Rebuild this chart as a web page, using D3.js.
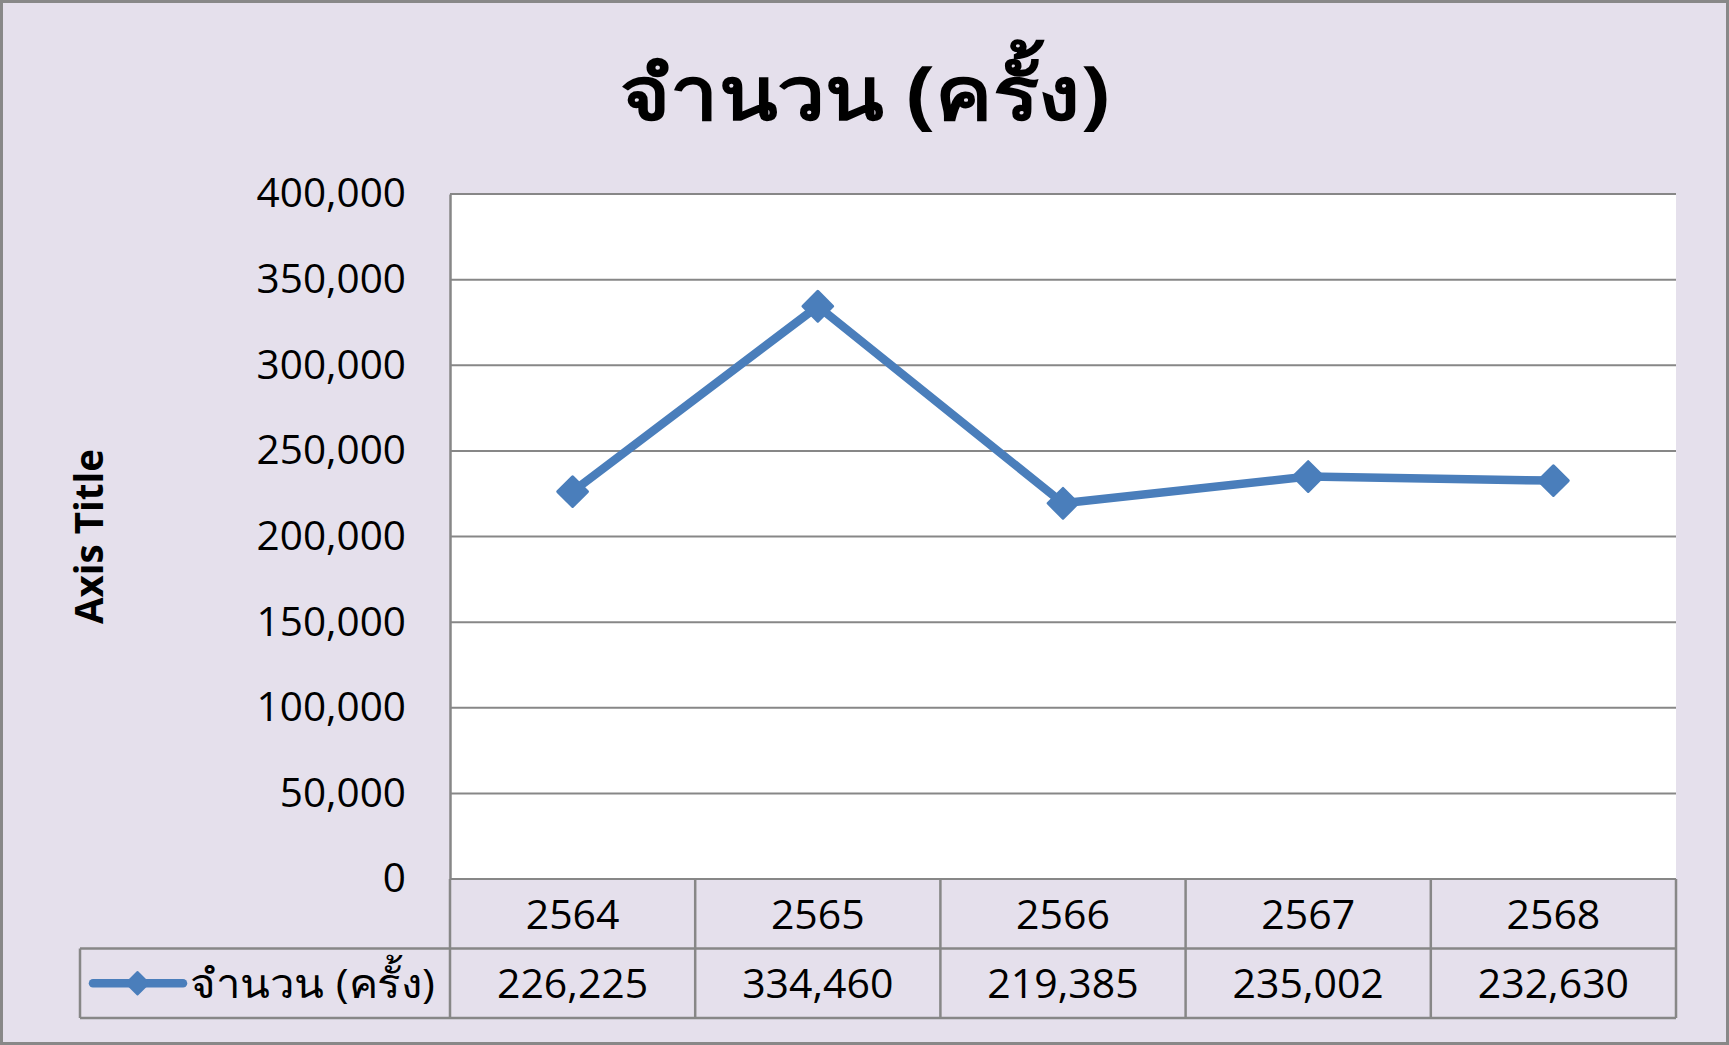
<!DOCTYPE html>
<html><head><meta charset="utf-8">
<script src="https://cdn.jsdelivr.net/npm/d3@7"></script>
<style>
html,body{margin:0;padding:0;background:#fff;}
svg{display:block;}
text{font-family:"Open Sans","Noto Sans",sans-serif;fill:#000;}
</style></head>
<body>
<svg id="chart" width="1729" height="1045"></svg>
<script>
const title = "จำนวน (ครั้ง)";
const seriesName = "จำนวน (ครั้ง)";
const categories = ["2564","2565","2566","2567","2568"];
const values = [226225, 334460, 219385, 235002, 232630];
const yTicks = [0,50000,100000,150000,200000,250000,300000,350000,400000];
const yAxisTitle = "Axis Title";

const W = 1729, H = 1045;
const plot = {left:450, right:1676, top:194, bottom:879};
const rowH = 69.5;
const legendLeft = 80;
const lineColor = "#4A7EBB";
const gridColor = "#878787";

const svg = d3.select("#chart");
svg.append("rect").attr("x",1.5).attr("y",1.5).attr("width",W-3).attr("height",H-3)
  .attr("fill","#E5E0EC").attr("stroke","#888").attr("stroke-width",3);

svg.append("rect").attr("x",plot.left).attr("y",plot.top)
  .attr("width",plot.right-plot.left).attr("height",plot.bottom-plot.top).attr("fill","#fff");

const x = d3.scaleBand().domain(categories).range([plot.left, plot.right]).padding(0);
const y = d3.scaleLinear().domain([0,400000]).range([plot.bottom, plot.top]);
const fmt = d3.format(",");

// gridlines
svg.append("g").selectAll("line").data(yTicks).join("line")
  .attr("x1",plot.left).attr("x2",plot.right)
  .attr("y1",d=>y(d)).attr("y2",d=>y(d))
  .attr("stroke",gridColor).attr("stroke-width",2);

// y axis
const yAxis = d3.axisLeft(y).tickValues(yTicks).tickFormat(fmt).tickSize(0).tickPadding(44);
const yg = svg.append("g").attr("transform",`translate(${plot.left},0)`).call(yAxis);
yg.select(".domain").attr("stroke",gridColor).attr("stroke-width",2.5);
yg.selectAll("text").attr("font-size",40.5).attr("font-family",'"Open Sans",sans-serif').attr("fill","#000");

// axis title
svg.append("text").attr("transform",`translate(103,${(plot.top+plot.bottom)/2}) rotate(-90)`)
  .attr("text-anchor","middle").attr("font-weight","bold").attr("font-size",38.5)
  .text(yAxisTitle);

// title
svg.append("text").attr("x",865).attr("y",120).attr("text-anchor","middle")
  .attr("font-weight","bold").attr("font-size",75)
  .attr("textLength",490).attr("lengthAdjust","spacingAndGlyphs").text(title);

// data table
const t = svg.append("g");
const r1 = plot.bottom, r2 = plot.bottom+rowH, r3 = plot.bottom+2*rowH;
const edges = categories.map(c=>x(c)).concat([plot.right]);
t.selectAll("line.v").data(edges).join("line").attr("class","v")
  .attr("x1",d=>d).attr("x2",d=>d).attr("y1",r1).attr("y2",r3)
  .attr("stroke",gridColor).attr("stroke-width",2.5);
t.append("line").attr("x1",legendLeft).attr("x2",plot.right).attr("y1",r2).attr("y2",r2).attr("stroke",gridColor).attr("stroke-width",2.5);
t.append("line").attr("x1",legendLeft).attr("x2",plot.right).attr("y1",r3).attr("y2",r3).attr("stroke",gridColor).attr("stroke-width",2.5);
t.append("line").attr("x1",legendLeft).attr("x2",legendLeft).attr("y1",r2).attr("y2",r3).attr("stroke",gridColor).attr("stroke-width",2.5);

t.selectAll("text.cat").data(categories).join("text").attr("class","cat")
  .attr("x",d=>x(d)+x.bandwidth()/2).attr("y",(r1+r2)/2).attr("dy","0.36em")
  .attr("text-anchor","middle").attr("font-size",41).text(d=>d);
t.selectAll("text.val").data(values).join("text").attr("class","val")
  .attr("x",(d,i)=>x(categories[i])+x.bandwidth()/2).attr("y",(r2+r3)/2).attr("dy","0.36em")
  .attr("text-anchor","middle").attr("font-size",41).text(d=>fmt(d));

// legend key
const ly = (r2+r3)/2;
t.append("line").attr("x1",93).attr("x2",183).attr("y1",ly).attr("y2",ly)
  .attr("stroke",lineColor).attr("stroke-width",8.5).attr("stroke-linecap","round");
t.append("path").attr("d",d3.symbol(d3.symbolSquare,256)())
  .attr("transform",`translate(137.5,${ly}) rotate(45)`)
  .attr("fill",lineColor).attr("stroke",lineColor).attr("stroke-width",2).attr("stroke-linejoin","round");
t.append("text").attr("x",190).attr("y",ly).attr("dy","0.36em").attr("font-size",41)
  .attr("textLength",245).attr("lengthAdjust","spacingAndGlyphs").text(seriesName);

// series line
const line = d3.line().x((d,i)=>x(categories[i])+x.bandwidth()/2).y(d=>y(d));
svg.append("path").datum(values).attr("d",line).attr("fill","none")
  .attr("stroke",lineColor).attr("stroke-width",8.5).attr("stroke-linejoin","round");
svg.selectAll("path.pt").data(values).join("path").attr("class","pt")
  .attr("d",d3.symbol(d3.symbolSquare,441)())
  .attr("transform",(d,i)=>`translate(${x(categories[i])+x.bandwidth()/2},${y(d)}) rotate(45)`)
  .attr("fill",lineColor).attr("stroke",lineColor).attr("stroke-width",3).attr("stroke-linejoin","round");
</script>
</body></html>
